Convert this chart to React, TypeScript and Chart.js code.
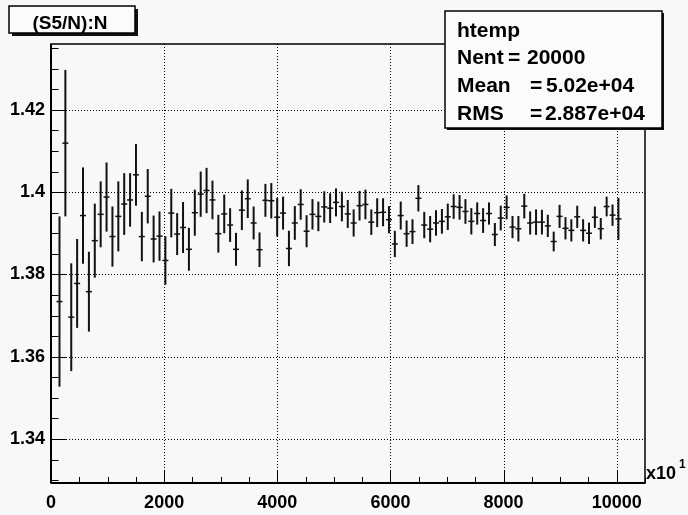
import React, { useEffect, useRef } from "react";
import { Chart, registerables } from "chart.js";

Chart.register(...registerables);

// Profile of S5/N against N (x axis in units of 10^1)
const FIRST_BIN_CENTER = 150;
const BIN_WIDTH = 104;

const profileMeans = [
  1.3734, 1.4119, 1.3696, 1.3778, 1.3943, 1.3758, 1.3882, 1.3946, 1.3988, 1.3892,
  1.3941, 1.3971, 1.3981, 1.4042, 1.3892, 1.399, 1.3886, 1.3893, 1.3834, 1.3949,
  1.3898, 1.3914, 1.3861, 1.395, 1.3995, 1.4004, 1.3981, 1.3899, 1.3947, 1.392,
  1.3861, 1.3956, 1.3984, 1.3925, 1.386, 1.398, 1.3979, 1.3939, 1.3949, 1.3863,
  1.3925, 1.397, 1.3905, 1.3946, 1.3941, 1.3964, 1.3961, 1.3975, 1.3965, 1.3947,
  1.3925, 1.3967, 1.397, 1.3927, 1.395, 1.3951, 1.3933, 1.3874, 1.3943, 1.3899,
  1.3904, 1.3985, 1.392, 1.391, 1.3925, 1.3929, 1.394, 1.3965, 1.3963, 1.3953,
  1.3929, 1.3948, 1.3931, 1.3948, 1.3897, 1.3937, 1.3963, 1.3915, 1.3911, 1.3966,
  1.3925, 1.3927, 1.3927, 1.3918, 1.388, 1.3941, 1.3912, 1.3907, 1.394, 1.3907,
  1.39, 1.3939, 1.3911, 1.3965, 1.3944, 1.3935,
];

const profileErrors = [
  0.0207, 0.0178, 0.0131, 0.0108, 0.0117, 0.0097, 0.009, 0.008, 0.0084, 0.0073,
  0.0085, 0.0075, 0.0065, 0.0075, 0.006, 0.0066, 0.0057, 0.006, 0.0059, 0.0059,
  0.0051, 0.0062, 0.0052, 0.0056, 0.0055, 0.0055, 0.0047, 0.0046, 0.0047, 0.0041,
  0.004, 0.0048, 0.0047, 0.004, 0.0042, 0.004, 0.0043, 0.0047, 0.004, 0.0043,
  0.0041, 0.0037, 0.0039, 0.0037, 0.0036, 0.0038, 0.0036, 0.0034, 0.0036, 0.0034,
  0.0033, 0.0036, 0.0036, 0.0031, 0.0035, 0.0034, 0.0033, 0.0032, 0.0034, 0.0032,
  0.003, 0.0032, 0.0032, 0.0032, 0.0031, 0.003, 0.0032, 0.003, 0.003, 0.003,
  0.0032, 0.0027, 0.003, 0.0027, 0.0028, 0.003, 0.0029, 0.0027, 0.0031, 0.003,
  0.0028, 0.0031, 0.003, 0.0027, 0.0024, 0.0028, 0.0027, 0.0027, 0.0027, 0.0027,
  0.0026, 0.0026, 0.0026, 0.0024, 0.0026, 0.0051,
];

const X_MIN = 0;
const X_MAX = 10500;
const Y_MIN = 1.3293;
const Y_MAX = 1.436;
const xTickValues = [0, 2000, 4000, 6000, 8000, 10000];
const yTickValues = [1.34, 1.36, 1.38, 1.4, 1.42];

const histTitle = "(S5/N):N";
const statsName = "htemp";
const statsLabels = ["Nent", "Mean", "RMS"];
const statsValues = ["20000", "5.02e+04", "2.887e+04"];
const axisExponent = "1";

const BG = "#f8f8f8";
const FONT = "'Liberation Sans', Arial, Helvetica, sans-serif";

function line(ctx: CanvasRenderingContext2D, x1: number, y1: number, x2: number, y2: number) {
  ctx.beginPath();
  ctx.moveTo(x1, y1);
  ctx.lineTo(x2, y2);
  ctx.stroke();
}

function shadowBox(ctx: CanvasRenderingContext2D, l: number, t: number, r: number, b: number, sh: number) {
  ctx.fillStyle = "#111";
  ctx.fillRect(l + sh, t + sh, r - l, b - t);
  ctx.fillStyle = "#fbfbfb";
  ctx.fillRect(l, t, r - l, b - t);
  ctx.strokeStyle = "#000";
  ctx.lineWidth = 1.5;
  ctx.strokeRect(l, t, r - l, b - t);
}

const rootStyle = {
  id: "rootStyle",
  beforeDraw(chart: any) {
    const { ctx, width, height } = chart;
    ctx.save();
    ctx.fillStyle = BG;
    ctx.fillRect(0, 0, width, height);
    ctx.restore();
  },
  beforeDatasetsDraw(chart: any) {
    const { ctx, chartArea: a } = chart;
    const xs = chart.scales.x;
    const ys = chart.scales.y;
    ctx.save();
    ctx.strokeStyle = "#000";
    ctx.lineWidth = 1;
    // dotted grid on the major ticks
    ctx.setLineDash([1, 2]);
    for (const t of xs.ticks) {
      const px = Math.round(xs.getPixelForValue(t.value)) + 0.5;
      if (px <= a.left + 2) continue;
      line(ctx, px, a.top, px, a.bottom);
    }
    for (const t of ys.ticks) {
      const py = Math.round(ys.getPixelForValue(t.value)) + 0.5;
      line(ctx, a.left, py, a.right, py);
    }
    ctx.setLineDash([]);
    // inward tick marks
    for (let k = Math.ceil(xs.min / 500); k * 500 <= xs.max; k++) {
      const px = Math.round(xs.getPixelForValue(k * 500)) + 0.5;
      const len = k % 4 === 0 ? 12 : 6;
      line(ctx, px, a.bottom, px, a.bottom - len);
    }
    for (let k = Math.ceil(ys.min / 0.005 - 1e-6); k * 0.005 <= ys.max + 1e-9; k++) {
      const py = Math.round(ys.getPixelForValue(k * 0.005)) + 0.5;
      const len = k % 4 === 0 ? 15 : 7.5;
      line(ctx, a.left, py, a.left + len, py);
    }
    // frame
    ctx.lineWidth = 1.5;
    ctx.strokeRect(a.left, a.top, a.right - a.left, a.bottom - a.top);
    ctx.lineWidth = 2;
    line(ctx, a.left, a.top, a.left, a.bottom);
    line(ctx, a.left, a.bottom, a.right, a.bottom);
    // vertical error bars
    ctx.strokeStyle = "#111";
    ctx.lineWidth = 2;
    profileMeans.forEach((m, i) => {
      const px = xs.getPixelForValue(FIRST_BIN_CENTER + i * BIN_WIDTH);
      const e = profileErrors[i];
      line(ctx, px, ys.getPixelForValue(m + e), px, ys.getPixelForValue(m - e));
    });
    ctx.restore();
  },
  afterDraw(chart: any) {
    const { ctx } = chart;
    ctx.save();
    // title box
    shadowBox(ctx, 9, 6, 135, 33, 3);
    ctx.fillStyle = "#000";
    ctx.font = `bold 19px ${FONT}`;
    ctx.textAlign = "center";
    ctx.textBaseline = "alphabetic";
    ctx.fillText(histTitle, 70, 29);

    // statistics box
    shadowBox(ctx, 445, 11, 662, 128, 2);
    ctx.fillStyle = "#000";
    ctx.font = `bold 21px ${FONT}`;
    ctx.textAlign = "left";
    ctx.fillText(statsName, 457, 37);
    const baselines = [64, 92, 120];
    const eqX = [508, 530, 530];
    const valX = [527, 546, 545];
    statsLabels.forEach((lab, i) => {
      ctx.fillText(lab, 457, baselines[i]);
      ctx.fillText("=", eqX[i], baselines[i]);
      ctx.fillText(statsValues[i], valX[i], baselines[i]);
    });

    // axis multiplier
    ctx.font = `bold 18px ${FONT}`;
    ctx.fillText("x10", 646, 479);
    ctx.font = `bold 12px ${FONT}`;
    ctx.fillText(axisExponent, 679, 468);
    ctx.restore();
  },
};

export default function App() {
  const canvasRef = useRef<HTMLCanvasElement | null>(null);

  useEffect(() => {
    const canvas = canvasRef.current;
    if (!canvas) return;
    const points = profileMeans.map((m, i) => ({ x: FIRST_BIN_CENTER + i * BIN_WIDTH, y: m }));
    const tickFont = { family: FONT, size: 18, weight: "bold" as const };
    const chart = new Chart(canvas, {
      type: "scatter",
      data: {
        datasets: [
          {
            data: points,
            pointStyle: "line",
            pointRadius: 3,
            pointBorderWidth: 1.5,
            borderColor: "#111",
            backgroundColor: "#111",
            showLine: false,
          },
        ],
      },
      options: {
        animation: false,
        responsive: false,
        devicePixelRatio: 1,
        layout: { padding: { top: 44, right: 43, left: 0, bottom: 0 } },
        plugins: {
          legend: { display: false },
          tooltip: { enabled: false },
          title: { display: false },
        },
        scales: {
          x: {
            type: "linear",
            min: X_MIN,
            max: X_MAX,
            grid: { display: false, drawTicks: false },
            border: { display: false },
            afterBuildTicks: (s: any) => {
              s.ticks = xTickValues.map((v) => ({ value: v }));
            },
            ticks: {
              autoSkip: false,
              maxRotation: 0,
              color: "#000",
              font: tickFont,
              padding: 9,
              callback: (v: any) => String(v),
            },
            afterFit: (s: any) => {
              s.height = 32;
            },
          },
          y: {
            type: "linear",
            min: Y_MIN,
            max: Y_MAX,
            grid: { display: false, drawTicks: false },
            border: { display: false },
            afterBuildTicks: (s: any) => {
              s.ticks = yTickValues.map((v) => ({ value: v }));
            },
            ticks: {
              autoSkip: false,
              color: "#000",
              font: tickFont,
              padding: 6,
              callback: (v: any) => String(parseFloat(Number(v).toFixed(2))),
            },
            afterFit: (s: any) => {
              s.width = 51;
            },
          },
        },
      },
      plugins: [rootStyle],
    });
    return () => chart.destroy();
  }, []);

  return (
    <div style={{ position: "absolute", left: 0, top: 0, width: 688, height: 515 }}>
      <canvas ref={canvasRef} width={688} height={515} style={{ display: "block" }} />
    </div>
  );
}
